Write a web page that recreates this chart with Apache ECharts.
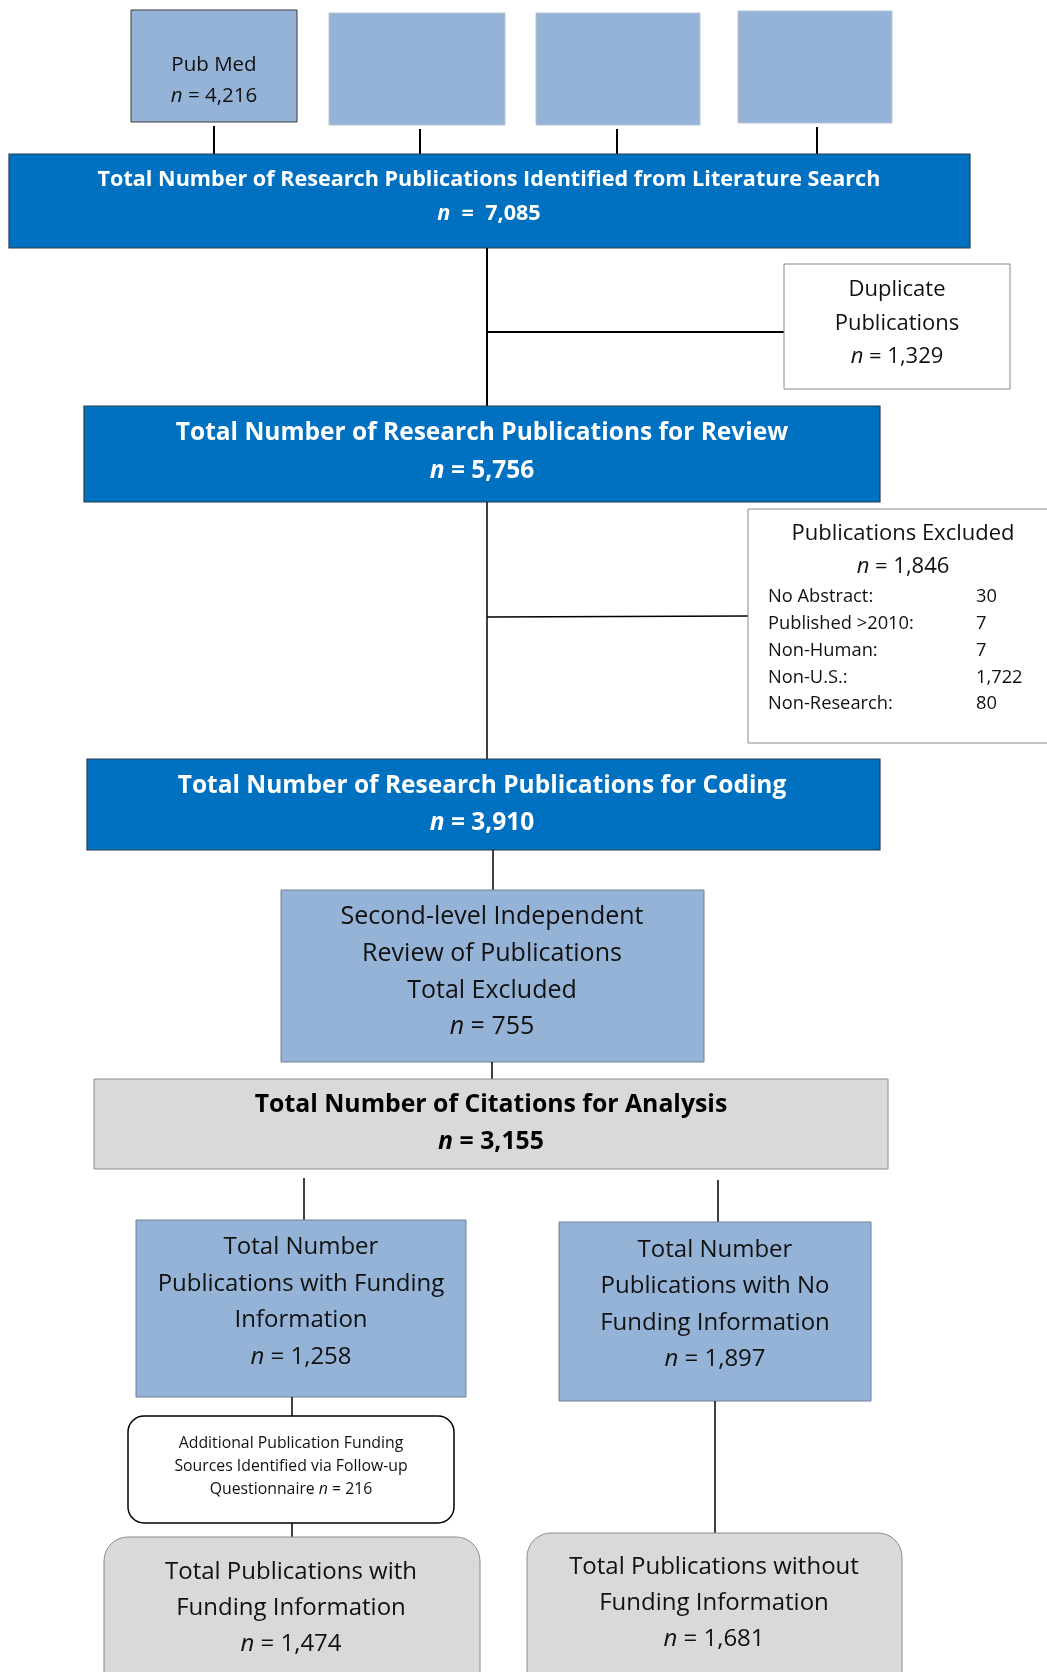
<!DOCTYPE html>
<html>
<head>
<meta charset="utf-8">
<script src="https://cdn.jsdelivr.net/npm/echarts@6/dist/echarts.min.js"></script>
<style>
  html, body { margin: 0; padding: 0; background: #fff; }
  #chart { width: 1047px; height: 1672px; }
</style>
</head>
<body>
<div id="chart"></div>
<script>
// flow values
const sourceNames = ["Pub Med", "", "", ""];
const sourceCounts = ["4,216", null, null, null];
const identifiedTitle = "Total Number of Research Publications Identified from Literature Search";
const identifiedCount = "7,085";
const duplicateCount = "1,329";
const reviewTitle = "Total Number of Research Publications for Review";
const reviewCount = "5,756";
const excludedCount = "1,846";
const exclusionReasons = ["No Abstract:", "Published >2010:", "Non-Human:", "Non-U.S.:", "Non-Research:"];
const exclusionCounts = ["30", "7", "7", "1,722", "80"];
const codingTitle = "Total Number of Research Publications for Coding";
const codingCount = "3,910";
const secondLevelCount = "755";
const analysisTitle = "Total Number of Citations for Analysis";
const analysisCount = "3,155";
const fundingCount = "1,258";
const noFundingCount = "1,897";
const followUpCount = "216";
const totalFundingCount = "1,474";
const totalNoFundingCount = "1,681";

const FONT = "'Open Sans', Lato, sans-serif";
const DARK = "#0070C0", LIGHT = "#95B3D7", GRAY = "#D9D9D9";

function box(x, y, w, h, fill, stroke, lw, r) {
  return {
    type: "rect",
    shape: { x: x, y: y, width: w, height: h, r: r || 0 },
    style: { fill: fill, stroke: stroke || null, lineWidth: lw || 0 }
  };
}
function line(x1, y1, x2, y2, lw) {
  return {
    type: "line",
    shape: { x1: x1, y1: y1, x2: x2, y2: y2 },
    style: { stroke: "#000", lineWidth: lw || 1.5 }
  };
}
function text(x, y, str, size, color, weight, align) {
  return {
    type: "text",
    z: 10,
    style: {
      text: str, x: x, y: y,
      align: align || "center", verticalAlign: "middle",
      fontFamily: FONT, fontSize: size, fontWeight: weight || "normal", fill: color,
      rich: {
        i: { fontFamily: FONT, fontSize: size, fontWeight: weight || "normal", fontStyle: "italic", fill: color }
      }
    }
  };
}
function lines(cx, y0, step, arr, size, color, weight) {
  return arr.map(function (s, i) { return text(cx, y0 + i * step, s, size, color, weight); });
}
const nEq = function (v) { return "{i|n} = " + v; };
const nEqWide = function (v) { return "{i|n}  =  " + v; };

const els = [];

// source boxes
const srcBoxes = [[131, 10, 166, 112], [329, 13, 176, 112], [536, 13, 164, 112], [738, 11, 154, 112]];
const srcStubs = [214, 420, 617, 817];
srcBoxes.forEach(function (b, i) {
  els.push(box(b[0], b[1], b[2], b[3], LIGHT, i === 0 ? "#3a3a3a" : "#b8c4d2", 1));
  els.push(line(srcStubs[i], b[1] + b[3] + 4, srcStubs[i], 154, 2));
  if (sourceNames[i]) {
    els.push(text(b[0] + b[2] / 2, 65, sourceNames[i], 20.5, "#111"));
    els.push(text(b[0] + b[2] / 2, 96, nEq(sourceCounts[i]), 20.5, "#111"));
  }
});

// identified
els.push(box(9, 154, 961, 94, DARK, "#2a3b4f", 1.2));
els.push.apply(els, lines(489, 180, 34, [identifiedTitle, nEqWide(identifiedCount)], 21.6, "#fff", "bold"));

// connector to review + duplicates
els.push(line(487, 248, 487, 406, 2));
els.push(line(487, 332, 784, 332, 2));
els.push(box(784, 264, 226, 125, "#fff", "#8a8a8a", 1));
els.push.apply(els, lines(897, 290, 33.5, ["Duplicate", "Publications", nEq(duplicateCount)], 22, "#111"));

// review
els.push(box(84, 406, 796, 96, DARK, "#2a3b4f", 1.2));
els.push.apply(els, lines(482, 433, 38, [reviewTitle, nEq(reviewCount)], 24.5, "#fff", "bold"));

// connector to coding + excluded
els.push(line(487, 502, 487, 759, 1.5));
els.push(line(487, 617, 748, 616, 1.5));
els.push(box(748, 509, 310, 234, "#fff", "#8a8a8a", 1));
els.push.apply(els, lines(903, 534, 33, ["Publications Excluded", nEq(excludedCount)], 22, "#111"));
exclusionReasons.forEach(function (r, i) {
  els.push(text(768, 597 + i * 26.8, r, 18.3, "#111", "normal", "left"));
  els.push(text(976, 597 + i * 26.8, exclusionCounts[i], 18.3, "#111", "normal", "left"));
});

// coding
els.push(box(87, 759, 793, 91, DARK, "#2a3b4f", 1.2));
els.push.apply(els, lines(482, 786, 37, [codingTitle, nEq(codingCount)], 24.5, "#fff", "bold"));

// second-level review
els.push(line(493, 850, 493, 890, 1.5));
els.push(box(281, 890, 423, 172, LIGHT, "#6f8096", 1));
els.push.apply(els, lines(492, 917, 36.7, ["Second-level Independent", "Review of Publications", "Total Excluded", nEq(secondLevelCount)], 25, "#111"));
els.push(line(492, 1062, 492, 1079, 1.5));

// analysis
els.push(box(94, 1079, 794, 90, GRAY, "#8c8c8c", 1));
els.push.apply(els, lines(491, 1105, 37, [analysisTitle, nEq(analysisCount)], 24.8, "#000", "bold"));

// split
els.push(line(304, 1178, 304, 1220, 1.5));
els.push(line(718, 1180, 718, 1222, 1.5));
els.push(box(136, 1220, 330, 177, LIGHT, "#6f8096", 1));
els.push.apply(els, lines(301, 1247, 36.7, ["Total Number", "Publications with Funding", "Information", nEq(fundingCount)], 24, "#111"));
els.push(box(559, 1222, 312, 179, LIGHT, "#6f8096", 1));
els.push.apply(els, lines(715, 1250, 36.5, ["Total Number", "Publications with No", "Funding Information", nEq(noFundingCount)], 24, "#111"));

// left branch
els.push(line(292, 1397, 292, 1416, 1.5));
els.push(box(128, 1416, 326, 107, "#fff", "#000", 1.5, 16));
els.push.apply(els, lines(291, 1443, 23, ["Additional Publication Funding", "Sources Identified via Follow-up", "Questionnaire " + nEq(followUpCount)], 15.8, "#111"));
els.push(line(292, 1523, 292, 1537, 1.5));
els.push(box(104, 1537, 376, 160, GRAY, "#8c8c8c", 1, 24));
els.push.apply(els, lines(291, 1572, 36, ["Total Publications with", "Funding Information", nEq(totalFundingCount)], 24, "#111"));

// right branch
els.push(line(715, 1401, 715, 1533, 1.5));
els.push(box(527, 1533, 375, 164, GRAY, "#8c8c8c", 1, 24));
els.push.apply(els, lines(714, 1567, 36, ["Total Publications without", "Funding Information", nEq(totalNoFundingCount)], 24, "#111"));

const chart = echarts.init(document.getElementById("chart"), null, { width: 1047, height: 1672 });
chart.setOption({
  backgroundColor: "#fff",
  animation: false,
  graphic: { elements: els }
});
</script>
</body>
</html>
